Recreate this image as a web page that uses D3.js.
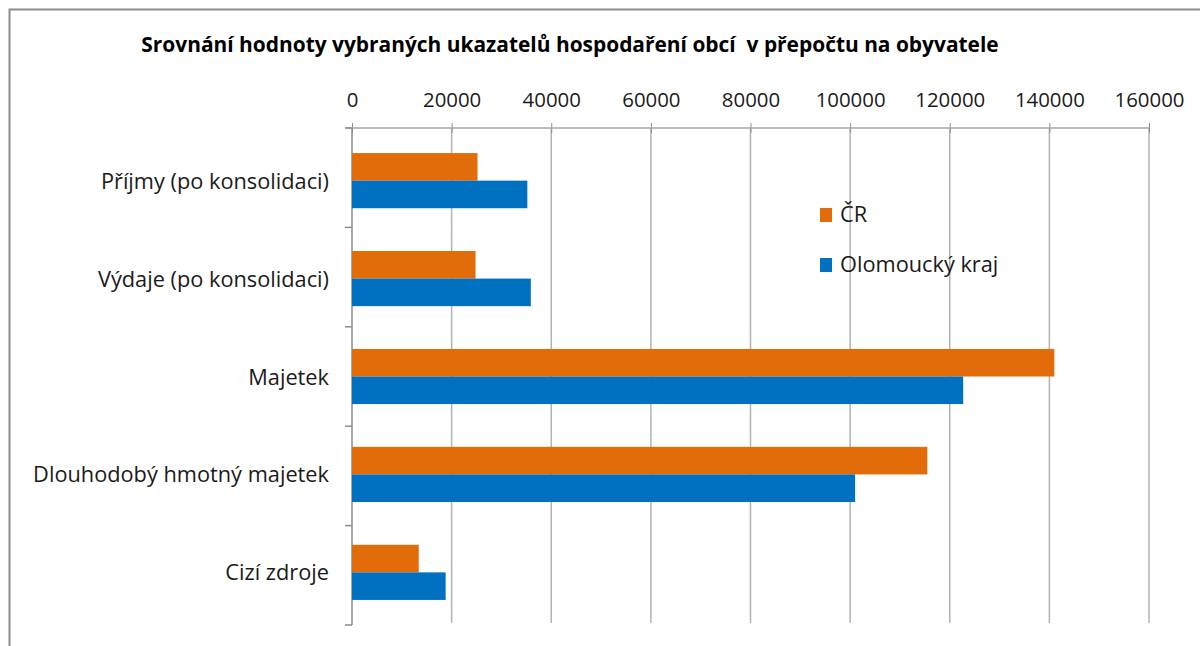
<!DOCTYPE html>
<html>
<head>
<meta charset="utf-8">
<script src="https://cdn.jsdelivr.net/npm/d3@7"></script>
<style>
  body { margin: 0; background: #fff; }
  svg { display: block; }
</style>
</head>
<body>
<div id="chart"></div>
<script>
// ---- data ----
const categories = [
  'Příjmy (po konsolidaci)',
  'Výdaje (po konsolidaci)',
  'Majetek',
  'Dlouhodobý hmotný majetek',
  'Cizí zdroje'
];
const seriesNames = ['ČR', 'Olomoucký kraj'];
const crValues = [25200, 24800, 141000, 115500, 13400];
const olomoucValues = [35200, 35900, 122700, 101000, 18800];
const xTicks = [0, 20000, 40000, 60000, 80000, 100000, 120000, 140000, 160000];
const titleText = 'Srovnání hodnoty vybraných ukazatelů hospodaření obcí  v přepočtu na obyvatele';

const colors = ['#E36C0A', '#0070C0'];
const font = '"Open Sans", "DejaVu Sans", sans-serif';

const W = 1200, H = 646;
const plot = { left: 352, right: 1149, top: 128, bottom: 625 };

const svg = d3.select('#chart').append('svg')
  .attr('width', W).attr('height', H);

// outer chart frame (only top / left edges are visible in the crop)
svg.append('rect')
  .attr('x', 9.5).attr('y', 9.5)
  .attr('width', W + 20).attr('height', H + 20)
  .attr('fill', '#fff')
  .attr('stroke', '#8c8c8c').attr('stroke-width', 2);

// shrink/grow a text node's font-size until it has the wanted width
function fitWidth(sel, target) {
  const node = sel.node();
  let fs = parseFloat(sel.style('font-size'));
  const w = node.getComputedTextLength();
  fs = fs * target / w;
  sel.style('font-size', fs + 'px');
  return fs;
}

// scales
const x = d3.scaleLinear()
  .domain([0, 160000])
  .range([plot.left, plot.right]);

const y = d3.scaleBand()
  .domain(categories)
  .range([plot.top, plot.bottom])
  .paddingInner(0.437)
  .paddingOuter(0.256);

const ySub = d3.scaleBand()
  .domain(seriesNames)
  .range([0, y.bandwidth()]);

// gridlines
svg.append('g')
  .selectAll('line')
  .data(xTicks.slice(1))
  .join('line')
    .attr('x1', d => x(d)).attr('x2', d => x(d))
    .attr('y1', plot.top).attr('y2', plot.bottom - 2)
    .attr('stroke', '#b3b3b3').attr('stroke-width', 1.5);

// top value axis
const xAxis = svg.append('g')
  .attr('transform', `translate(0,${plot.top})`)
  .call(d3.axisTop(x).tickValues(xTicks).tickFormat(d3.format('d')).tickSize(5).tickPadding(16));
xAxis.select('.domain').remove();
xAxis.append('line')
  .attr('x1', plot.left - 6).attr('x2', plot.right)
  .attr('stroke', '#a6a6a6').attr('stroke-width', 1.5);
xAxis.selectAll('.tick line')
  .attr('y1', 5).attr('y2', -5)
  .attr('stroke', '#8c8c8c');
const tickTexts = xAxis.selectAll('.tick text')
  .attr('fill', '#1a1a1a')
  .style('font-family', font)
  .style('font-size', '20px');
// size tick labels so "160000" is about 70px wide
const last = tickTexts.filter(d => d === 160000);
const tfs = fitWidth(last, 70);
tickTexts.style('font-size', tfs + 'px');

// left category axis, ticks split the plot height evenly
const catStep = (plot.bottom - plot.top) / categories.length;
svg.append('line')
  .attr('x1', plot.left).attr('x2', plot.left)
  .attr('y1', plot.top).attr('y2', plot.bottom)
  .attr('stroke', '#8c8c8c').attr('stroke-width', 1.5);
svg.append('g')
  .selectAll('line')
  .data(d3.range(categories.length + 1))
  .join('line')
    .attr('x1', plot.left - 7).attr('x2', plot.left)
    .attr('y1', i => plot.top + i * catStep)
    .attr('y2', i => plot.top + i * catStep)
    .attr('stroke', '#8c8c8c').attr('stroke-width', 1.5);

const catLabels = svg.append('g')
  .selectAll('text')
  .data(categories)
  .join('text')
    .attr('x', 329)
    .attr('y', d => y(d) + y.bandwidth() / 2 + 8)
    .attr('text-anchor', 'end')
    .attr('fill', '#1a1a1a')
    .style('font-family', font)
    .style('font-size', '20px')
    .text(d => d);
const cfs = fitWidth(catLabels.filter(d => d === 'Dlouhodobý hmotný majetek'), 296);
catLabels.style('font-size', cfs + 'px');

// bars
const rows = categories.map((c, i) => ({ cat: c, values: [crValues[i], olomoucValues[i]] }));
const groups = svg.append('g')
  .selectAll('g')
  .data(rows)
  .join('g')
    .attr('transform', d => `translate(0,${y(d.cat)})`);
groups.selectAll('rect')
  .data(d => d.values.map((v, j) => ({ name: seriesNames[j], value: v, color: colors[j] })))
  .join('rect')
    .attr('x', x(0))
    .attr('y', d => ySub(d.name))
    .attr('width', d => x(d.value) - x(0))
    .attr('height', ySub.bandwidth())
    .attr('fill', d => d.color);

// legend
const legend = svg.append('g')
  .selectAll('g')
  .data(seriesNames)
  .join('g')
    .attr('transform', (d, i) => `translate(820,${208 + i * 50})`);
legend.append('rect')
  .attr('width', 12).attr('height', 14)
  .attr('fill', (d, i) => colors[i]);
legend.append('text')
  .attr('x', 20).attr('y', 14)
  .attr('fill', '#1a1a1a')
  .style('font-family', font)
  .style('font-size', cfs + 'px')
  .text(d => d);

// title
const title = svg.append('text')
  .attr('x', 570).attr('y', 52)
  .attr('text-anchor', 'middle')
  .attr('fill', '#000')
  .style('font-family', font)
  .style('font-weight', 'bold')
  .style('font-size', '20px')
  .style('white-space', 'pre')
  .text(titleText);
fitWidth(title, 858);
</script>
</body>
</html>
